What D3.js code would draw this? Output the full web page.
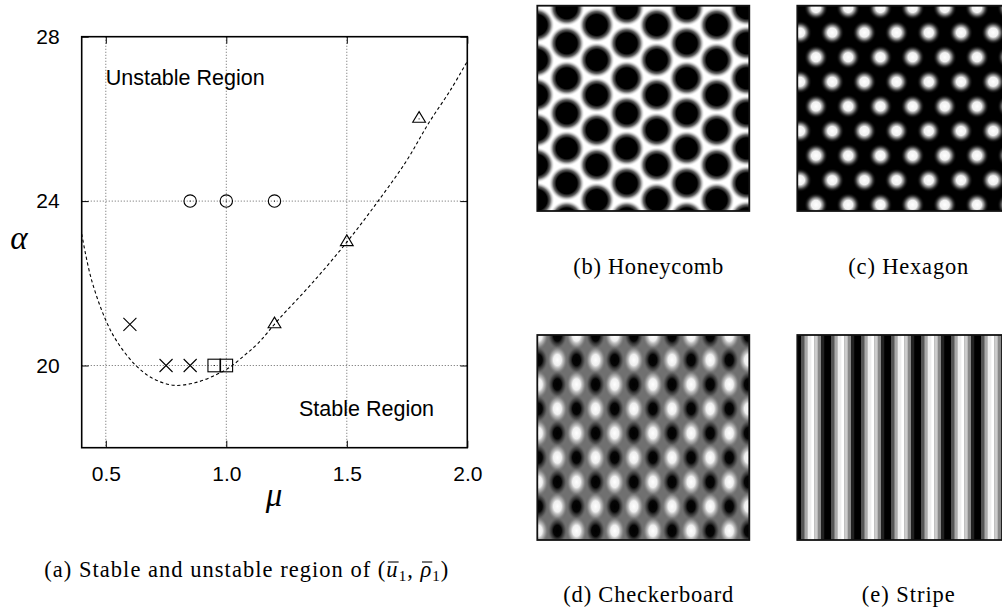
<!DOCTYPE html>
<html>
<head>
<meta charset="utf-8">
<script src="https://cdn.jsdelivr.net/npm/d3@7"></script>
<style>
  html, body { margin: 0; padding: 0; background: #fff; }
  svg { display: block; }
</style>
</head>
<body>
<svg id="chart" width="1002" height="607"></svg>
<script>
// ---------------- data ----------------
const xTicks = [0.5, 1.0, 1.5, 2.0];
const yTicks = [20, 24, 28];
const xGrid = [0.5, 1.0, 1.5];
const yGrid = [20, 24];

// dashed boundary curve
const curveMu    = [0.40, 0.44, 0.50, 0.55, 0.62, 0.69, 0.78, 0.87, 0.96, 1.02, 1.08, 1.13, 1.22, 1.36, 1.50, 1.63, 1.75, 1.84, 1.93, 2.00];
const curveAlpha = [23.2, 22.1, 21.1, 20.55, 20.03, 19.70, 19.52, 19.58, 19.78, 19.98, 20.27, 20.53, 21.14, 22.03, 23.0, 24.0, 25.0, 25.9, 26.7, 27.4];

// markers
const circleMu = [0.85, 1.0, 1.2];
const circleAlpha = [24, 24, 24];
const triangleMu = [1.2, 1.5, 1.8];
const triangleAlpha = [21, 23, 26];
const crossMu = [0.6, 0.75, 0.85];
const crossAlpha = [21, 20, 20];
const squareMu = [0.95, 1.0];
const squareAlpha = [20, 20];

// pattern unit profiles (gray levels)
const stripeProfile = [0, 0, 85, 170, 238, 255, 204, 136, 34];

const svg = d3.select("#chart");

// ---------------- left chart ----------------
const L = 81.7, R = 467.3, T = 36.7, B = 447.7;
const x = d3.scaleLinear().domain([0.4, 2.0]).range([L, R]);
const y = d3.scaleLinear().domain([18, 28]).range([B, T]);

const g = svg.append("g");

// grid
g.selectAll("line.gx").data(xGrid).join("line")
  .attr("x1", d => x(d)).attr("x2", d => x(d)).attr("y1", T).attr("y2", B)
  .attr("stroke", "#8a8a8a").attr("stroke-width", 1).attr("stroke-dasharray", "1.3,1.7");
g.selectAll("line.gy").data(yGrid).join("line")
  .attr("y1", d => y(d)).attr("y2", d => y(d)).attr("x1", L).attr("x2", R)
  .attr("stroke", "#8a8a8a").attr("stroke-width", 1).attr("stroke-dasharray", "1.3,1.7");

// axes (ticks inward, mirrored)
const tickLen = 7;
const axB = d3.axisBottom(x).tickValues(xTicks).tickFormat(d3.format(".1f")).tickSizeInner(-tickLen).tickSizeOuter(0).tickPadding(18);
const axT = d3.axisTop(x).tickValues(xTicks).tickFormat("").tickSizeInner(-tickLen).tickSizeOuter(0);
const axL = d3.axisLeft(y).tickValues(yTicks).tickFormat(d3.format("d")).tickSizeInner(-tickLen).tickSizeOuter(0).tickPadding(22);
const axR = d3.axisRight(y).tickValues(yTicks).tickFormat("").tickSizeInner(-tickLen).tickSizeOuter(0);

function styleAxis(sel) {
  sel.select(".domain").remove();
  sel.selectAll(".tick line").attr("stroke", "#000").attr("stroke-width", 1);
  sel.selectAll(".tick text").attr("fill", "#000")
    .style("font-family", "'Liberation Sans', Arial, sans-serif").style("font-size", "21px");
}
g.append("g").attr("transform", `translate(0,${B})`).call(axB).call(styleAxis);
g.append("g").attr("transform", `translate(0,${T})`).call(axT).call(styleAxis);
g.append("g").attr("transform", `translate(${L},0)`).call(axL).call(styleAxis);
g.append("g").attr("transform", `translate(${R},0)`).call(axR).call(styleAxis);

// clip
svg.append("clipPath").attr("id", "plotClip").append("rect")
  .attr("x", L).attr("y", T).attr("width", R - L).attr("height", B - T);

// curve
const curvePts = curveMu.map((m, i) => [m, curveAlpha[i]]);
g.append("path").datum(curvePts)
  .attr("clip-path", "url(#plotClip)")
  .attr("d", d3.line().x(d => x(d[0])).y(d => y(d[1])).curve(d3.curveCatmullRom))
  .attr("fill", "none").attr("stroke", "#000").attr("stroke-width", 1.1)
  .attr("stroke-dasharray", "3.2,2.6");

// markers
const mk = g.append("g").attr("fill", "none").attr("stroke", "#000").attr("stroke-width", 1.1);
mk.selectAll("circle.c").data(circleMu.map((m, i) => [m, circleAlpha[i]])).join("circle")
  .attr("cx", d => x(d[0])).attr("cy", d => y(d[1])).attr("r", 6.2);
mk.selectAll("path.t").data(triangleMu.map((m, i) => [m, triangleAlpha[i]])).join("path")
  .attr("d", d => { const cx = x(d[0]), cy = y(d[1]);
    return `M${cx},${cy - 7.3}L${cx + 6.4},${cy + 3.4}L${cx - 6.4},${cy + 3.4}Z`; });
mk.selectAll("path.x").data(crossMu.map((m, i) => [m, crossAlpha[i]])).join("path")
  .attr("d", d => { const cx = x(d[0]), cy = y(d[1]), h = 6.5;
    return `M${cx - h},${cy - h}L${cx + h},${cy + h}M${cx - h},${cy + h}L${cx + h},${cy - h}`; });
mk.selectAll("rect.s").data(squareMu.map((m, i) => [m, squareAlpha[i]])).join("rect")
  .attr("x", d => x(d[0]) - 6.3).attr("y", d => y(d[1]) - 6.3).attr("width", 12.6).attr("height", 12.6);
// center dots
g.selectAll("rect.dot").data([...circleMu.map((m, i) => [m, circleAlpha[i]]), ...triangleMu.map((m, i) => [m, triangleAlpha[i]]), ...squareMu.map((m, i) => [m, squareAlpha[i]])]).join("rect")
  .attr("x", d => x(d[0]) - 0.5).attr("y", d => y(d[1]) - 0.5).attr("width", 1).attr("height", 1).attr("fill", "#000");

// frame
g.append("rect").attr("x", L).attr("y", T).attr("width", R - L).attr("height", B - T)
  .attr("fill", "none").attr("stroke", "#000").attr("stroke-width", 1.6);

// region labels
const sans = "'Liberation Sans', Arial, sans-serif";
g.append("text").attr("x", 105.7).attr("y", 85).text("Unstable Region")
  .style("font-family", sans).style("font-size", "21.5px");
g.append("text").attr("x", 299).attr("y", 415.5).text("Stable Region")
  .style("font-family", sans).style("font-size", "21.5px");

// axis titles
g.append("text").attr("x", 19).attr("y", 249).attr("text-anchor", "middle").text("α")
  .style("font-family", "'Liberation Serif', serif").style("font-style", "italic").style("font-size", "33px");
g.append("text").attr("x", 274).attr("y", 506).attr("text-anchor", "middle").text("μ")
  .style("font-family", "'Liberation Serif', serif").style("font-style", "italic").style("font-size", "33px");

// captions
const serif = "'Liberation Serif', 'Times New Roman', serif";
function caption(cx, by, txt, len) {
  return svg.append("text").attr("x", cx).attr("y", by).attr("text-anchor", "middle")
    .attr("textLength", len).attr("lengthAdjust", "spacing")
    .style("font-family", serif).style("font-size", "22.5px").text(txt);
}
const capA = svg.append("text").attr("x", 246.3).attr("y", 577).attr("text-anchor", "middle")
  .attr("textLength", 404).attr("lengthAdjust", "spacing")
  .style("font-family", serif).style("font-size", "22.5px");
capA.append("tspan").text("(a) Stable and unstable region of (");
capA.append("tspan").attr("class", "ubar").style("font-style", "italic").text("u");
capA.append("tspan").attr("dy", 4).style("font-size", "15px").text("1");
capA.append("tspan").attr("dy", -4).text(", ");
capA.append("tspan").attr("class", "rbar").style("font-style", "italic").text("ρ");
capA.append("tspan").attr("dy", 4).style("font-size", "15px").text("1");
capA.append("tspan").attr("dy", -4).text(")");
// overbars drawn from the glyph extents
(function () {
  const node = capA.node();
  const full = node.textContent;
  const idxU = full.indexOf("u", full.indexOf("of ("));
  const idxR = full.indexOf("ρ");
  [idxU, idxR].forEach(ix => {
    try {
      const bb = node.getExtentOfChar(ix);
      svg.append("line").attr("x1", bb.x + 1.5).attr("x2", bb.x + bb.width + 1)
        .attr("y1", 562).attr("y2", 562).attr("stroke", "#000").attr("stroke-width", 1.1);
    } catch (e) {}
  });
})();
caption(648.3, 274, "(b) Honeycomb", 150);
caption(908.3, 274, "(c) Hexagon", 120);
caption(648.3, 602, "(d) Checkerboard", 170);
caption(908.3, 602, "(e) Stripe", 93);

// ---------------- pattern images ----------------
const defs = svg.append("defs");
function radial(id, stops) {
  const gr = defs.append("radialGradient").attr("id", id).attr("cx", 0.5).attr("cy", 0.5).attr("r", 0.5);
  stops.forEach(s => gr.append("stop").attr("offset", s[0]).attr("stop-color", s[1]).attr("stop-opacity", s[2]));
}
radial("gHoney", [[0, "#000", 1], [0.58, "#000", 1], [0.75, "#222", 0.7], [0.9, "#777", 0.2], [1, "#fff", 0]]);
radial("gHex", [[0, "#fff", 1], [0.38, "#f0f0f0", 1], [0.6, "#999", 0.8], [0.82, "#444", 0.35], [1, "#000", 0]]);
radial("gChkW", [[0, "#fff", 1], [0.4, "#eee", 1], [0.72, "#bbb", 0.55], [1, "#777", 0]]);
radial("gChkB", [[0, "#000", 1], [0.4, "#050505", 1], [0.72, "#333", 0.55], [1, "#777", 0]]);

function panel(id, bx, by, bw, bh, bg, drawFn) {
  defs.append("clipPath").attr("id", id).append("rect").attr("x", bx).attr("y", by).attr("width", bw).attr("height", bh);
  const pg = svg.append("g").attr("clip-path", `url(#${id})`);
  pg.append("rect").attr("x", bx).attr("y", by).attr("width", bw).attr("height", bh).attr("fill", bg);
  drawFn(pg);
  svg.append("rect").attr("x", bx).attr("y", by).attr("width", bw).attr("height", bh)
    .attr("fill", "none").attr("stroke", "#111").attr("stroke-width", 1.8);
}

// Honeycomb: black holes on a hex lattice
panel("cpHoney", 537.3, 5.7, 212, 205.3, "#fff", pg => {
  const pts = [];
  d3.range(0, 9).forEach(k => {
    const cx = 536.7 + 30 * k;
    const y0 = (k % 2 === 0) ? -10 : 8.3;
    d3.range(0, 8).forEach(m => pts.push([cx, y0 + 35 * m]));
  });
  pg.selectAll("circle").data(pts).join("circle")
    .attr("cx", d => d[0]).attr("cy", d => d[1]).attr("r", 18).attr("fill", "url(#gHoney)");
});

// Hexagon: white spots on black
panel("cpHex", 797.3, 5.7, 212, 205.3, "#000", pg => {
  const pts = [];
  d3.range(0, 10).forEach(j => {
    const cy = 8 + 24.6 * j;
    const x0 = (j % 2 === 1) ? 800 : 816;
    d3.range(-1, 8).forEach(i => pts.push([x0 + 32.2 * i, cy]));
  });
  pg.selectAll("circle").data(pts).join("circle")
    .attr("cx", d => d[0]).attr("cy", d => d[1]).attr("r", 12).attr("fill", "url(#gHex)");
});

// Checkerboard: alternating black/white spots on gray
panel("cpChk", 537.3, 335, 212, 205, "#707070", pg => {
  const pts = [];
  d3.range(0, 10).forEach(j => {
    d3.range(0, 12).forEach(i => pts.push([538.3 + 19.1 * i, 335.6 + 24.4 * j, (i + j) % 2]));
  });
  pg.selectAll("ellipse").data(pts).join("ellipse")
    .attr("cx", d => d[0]).attr("cy", d => d[1]).attr("rx", 10).attr("ry", 14)
    .attr("fill", d => d[2] === 1 ? "url(#gChkB)" : "url(#gChkW)");
});

// Stripe: vertical bands
panel("cpStripe", 797.3, 335, 212, 205, "#000", pg => {
  const cw = 30 / 9;
  const cols = d3.range(0, 64);
  pg.selectAll("rect.col").data(cols).join("rect")
    .attr("x", c => 797.7 + c * cw).attr("y", 335).attr("width", cw + 0.3).attr("height", 205)
    .attr("fill", c => { const v = stripeProfile[(c + 1) % 9]; return d3.rgb(v, v, v); });
});
</script>
</body>
</html>
